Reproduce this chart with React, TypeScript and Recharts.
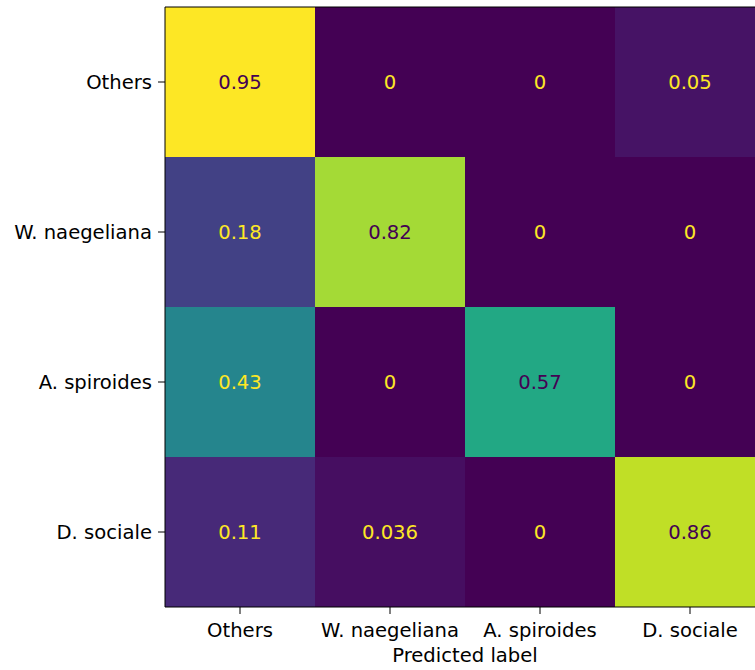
import React from "react";
import { Bar, BarChart, Cell, LabelList, XAxis, YAxis } from "recharts";

// rows = true label, columns = predicted label
const trueLabels = ["Others", "W. naegeliana", "A. spiroides", "D. sociale"];
const predictedLabels = ["Others", "W. naegeliana", "A. spiroides", "D. sociale"];

const othersRow = [0.95, 0, 0, 0.05];
const naegelianaRow = [0.18, 0.82, 0, 0];
const spiroidesRow = [0.43, 0, 0.57, 0];
const socialeRow = [0.11, 0.036, 0, 0.86];

const matrix = [othersRow, naegelianaRow, spiroidesRow, socialeRow];

// one row per true label; every cell gets a width of 1 in the stack
const data = trueLabels.map((label, i) => {
    const row: Record<string, any> = { name: label };
    matrix[i].forEach((v, j) => {
        row["c" + j] = 1;
        row["v" + j] = v;
    });
    return row;
});

const viridisStops = [
    "#440154", "#482475", "#414487", "#355f8d", "#2a788e", "#21918c",
    "#22a884", "#44bf70", "#7ad151", "#bddf26", "#fde725",
];

const hexToRgb = (h: string) => [1, 3, 5].map((k) => parseInt(h.slice(k, k + 2), 16));

const viridis = (t: number) => {
    const p = Math.max(0, Math.min(1, t)) * (viridisStops.length - 1);
    const i = Math.min(Math.floor(p), viridisStops.length - 2);
    const f = p - i;
    const a = hexToRgb(viridisStops[i]);
    const b = hexToRgb(viridisStops[i + 1]);
    const c = a.map((x, k) => Math.round(x + (b[k] - x) * f));
    return `rgb(${c[0]}, ${c[1]}, ${c[2]})`;
};

const vMax = Math.max(...matrix.flat());
const vMin = Math.min(...matrix.flat());
const threshold = (vMax + vMin) / 2;

const font = "DejaVu Sans, Verdana, sans-serif";
const fontSize = 19.6;

const CellText = (props: any) => {
    const { x, y, width, height, value } = props;
    const color = value > threshold ? "#440154" : "#fde725";
    return (
        <text
            x={x + width / 2}
            y={y + height / 2}
            textAnchor="middle"
            dominantBaseline="central"
            fill={color}
            fontSize={fontSize}
            fontFamily={font}
        >
            {String(value)}
        </text>
    );
};

const App = () => {
    const tickStyle = { fill: "#000", fontSize: fontSize, fontFamily: font };
    return (
        <div style={{ position: "fixed", left: 0, top: 0, width: 755, height: 670, overflow: "hidden", background: "#fff" }}>
            <BarChart
                width={780}
                height={670}
                layout="vertical"
                data={data}
                margin={{ top: 6, right: 15, bottom: 0, left: 0 }}
                barCategoryGap={0}
                barGap={0}
            >
                <XAxis
                    type="number"
                    domain={[0, 4]}
                    ticks={[0.5, 1.5, 2.5, 3.5]}
                    tickFormatter={(v: number) => predictedLabels[Math.floor(v)]}
                    height={63}
                    tick={tickStyle}
                    tickSize={7}
                    tickMargin={9}
                    stroke="#000"
                    allowDataOverflow
                    label={{ value: "Predicted label", position: "insideBottom", offset: 8, fill: "#000", fontSize: fontSize, fontFamily: font }}
                />
                <XAxis
                    xAxisId="top"
                    orientation="top"
                    type="number"
                    domain={[0, 4]}
                    height={1}
                    tick={false}
                    tickLine={false}
                    stroke="#000"
                />
                <YAxis
                    type="category"
                    dataKey="name"
                    width={165}
                    tick={tickStyle}
                    tickSize={7}
                    tickMargin={6}
                    stroke="#000"
                />
                {predictedLabels.map((_, j) => (
                    <Bar key={j} dataKey={"c" + j} stackId="cm" isAnimationActive={false}>
                        {matrix.map((row, i) => (
                            <Cell key={i} fill={viridis((row[j] - vMin) / (vMax - vMin))} />
                        ))}
                        <LabelList dataKey={"v" + j} content={CellText} />
                    </Bar>
                ))}
            </BarChart>
        </div>
    );
};

export default App;
